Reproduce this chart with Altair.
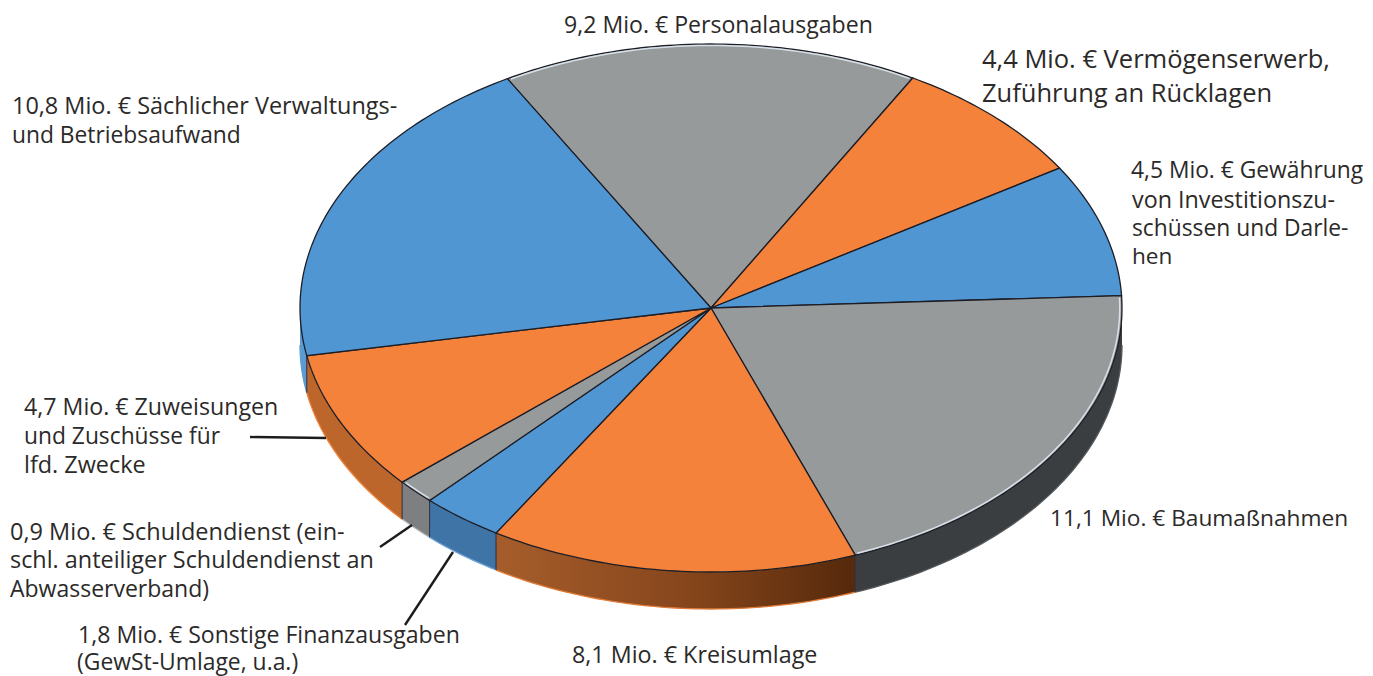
import math
import altair as alt

# --- data ---
categories = ["Personalausgaben", "Vermögenserwerb", "Investitionszuschüsse", "Baumaßnahmen",
              "Kreisumlage", "Sonstige Finanzausgaben", "Schuldendienst", "Zuweisungen",
              "Sächlicher Aufwand"]
values = [9.11, 4.41, 4.52, 11.12, 8.03, 1.80, 0.85, 4.76, 10.90]

# --- styling / geometry ---
TOP = ["#979a9a", "#f4823a", "#4f96d2", "#979a9a", "#f4823a", "#4f96d2", "#979a9a", "#f4823a", "#4f96d2"]
WALL = ["#979a9a", "#f4823a", "#4f96d2", "#3a3e40", "#7a4020", "#3f74a6", "#7d7f81", "#bd662c", "#5b9bd2"]
FRINGE = ["#979a9a", "#f4823a", "#4f96d2", "#55595b", "#e07a35", "#6fa5d6", "#b8bbbd", "#ee8238", "#5b9bd2"]
CX, CY, RX, RY, DEPTH, START = 711, 308, 411, 264, 37, -29.7
FONT = "Open Sans"
INK = "#2b2a29"

def pt(deg, k=1.0, dy=0.0):
    a = math.radians(deg)
    return [CX + k * RX * math.sin(a), CY - k * RY * math.cos(a) + dy]

def arc(a, b, k=1.0, dy=0.0):
    n = max(2, int(abs(b - a)) + 2)
    return [pt(a + (b - a) * i / (n - 1), k, dy) for i in range(n)]

def feature(kind, coords, **props):
    return {"type": "Feature", "properties": props, "geometry": {"type": kind, "coordinates": coords}}

total = sum(values)
bounds = [START]
for v in values:
    bounds.append(bounds[-1] + 360 * v / total)

tops, walls, grads, glints, fringes, seps = [], [], [], [], [], []
for i, name in enumerate(categories):
    a, b = bounds[i], bounds[i + 1]
    ring = [[CX, CY]] + arc(a, b) + [[CX, CY]]
    tops.append(feature("Polygon", [ring], fill=TOP[i], name=name))
    if TOP[i] == "#979a9a":
        glints.append(feature("LineString", arc(a + 0.4, b - 0.4, 0.9945), name=name))
    lo, hi = max(a, 90), min(b, 270)
    if hi > lo:
        wall = arc(lo, hi) + arc(hi, lo, 1.0, DEPTH)
        wall.append(wall[0])
        f = feature("Polygon", [wall], fill=WALL[i], name=name)
        (grads if name == "Kreisumlage" else walls).append(f)
        fringes.append(feature("LineString", arc(lo, hi, 1.0, DEPTH), col=FRINGE[i], name=name))
        if lo == a:
            seps.append(feature("LineString", [pt(a), pt(a, 1.0, DEPTH)], name=name))

def base(feats):
    return alt.Chart(alt.Data(values=feats)).project(type="identity", scale=1, translate=[-8, -8])

wall_layer = base(walls).mark_geoshape(strokeWidth=0).encode(
    fill=alt.Fill("properties.fill:N", scale=None))
brown = base(grads).mark_geoshape(
    strokeWidth=0,
    fill=alt.Gradient(gradient="linear", x1=0, y1=0, x2=1, y2=0,
                      stops=[alt.GradientStop(offset=0, color="#a65d2b"),
                             alt.GradientStop(offset=0.55, color="#85451b"),
                             alt.GradientStop(offset=1, color="#55290b")]))
fringe = base(fringes).mark_geoshape(filled=False, strokeWidth=1.3).encode(
    stroke=alt.Stroke("properties.col:N", scale=None))
sep = base(seps).mark_geoshape(filled=False, stroke="#2a2a3c", strokeWidth=1)
top_layer = base(tops).mark_geoshape(stroke="#1d1d26", strokeWidth=1.3).encode(
    fill=alt.Fill("properties.fill:N", scale=None))
glint = base(glints).mark_geoshape(filled=False, stroke="#d5e0e8", strokeWidth=1.5)

# --- labels ---
label_text = [
    "9,2 Mio. € Personalausgaben",
    "4,4 Mio. € Vermögenserwerb,", "Zuführung an Rücklagen",
    "4,5 Mio. € Gewährung", "von Investitionszu-", "schüssen und Darle-", "hen",
    "11,1 Mio. € Baumaßnahmen",
    "8,1 Mio. € Kreisumlage",
    "1,8 Mio. € Sonstige Finanzausgaben", "(GewSt-Umlage, u.a.)",
    "0,9 Mio. € Schuldendienst (ein-", "schl. anteiliger Schuldendienst an", "Abwasserverband)",
    "4,7 Mio. € Zuweisungen", "und Zuschüsse für", "lfd. Zwecke",
    "10,8 Mio. € Sächlicher Verwaltungs-", "und Betriebsaufwand",
]
label_x = [564, 982, 982, 1131, 1132, 1132, 1132, 1050, 572, 78, 77, 10, 10, 10, 24, 24, 24, 12, 12]
label_y = [33, 68, 102, 178, 208, 236, 264, 526, 663, 643, 670, 540, 568, 597, 415, 444, 473, 114, 143]
label_s = [23.1, 25.5, 25.5, 22.8, 23.3, 22.8, 22.6, 22.7, 23.3, 23.1, 22.9, 23.5, 23.4, 23, 23.2, 22.8, 23.4, 23.45, 22.8]
rows = [{"t": t, "x": x - 8, "y": y - 8, "s": s} for t, x, y, s in zip(label_text, label_x, label_y, label_s)]
labels = alt.Chart(alt.Data(values=rows)).mark_text(
    font=FONT, align="left", baseline="alphabetic", color=INK).encode(
    x=alt.X("x:Q", scale=None), y=alt.Y("y:Q", scale=None), text="t:N",
    size=alt.Size("s:Q", scale=None))

# --- leader lines ---
lead = [(250, 437, 326, 438), (380, 547, 412, 525), (405, 625, 453, 552)]
lead_rows = [{"x": a - 8, "y": b - 8, "x2": c - 8, "y2": d - 8} for a, b, c, d in lead]
leaders = alt.Chart(alt.Data(values=lead_rows)).mark_rule(color="#1c1c1c", strokeWidth=2.4).encode(
    x=alt.X("x:Q", scale=None), y=alt.Y("y:Q", scale=None),
    x2="x2:Q", y2="y2:Q")

chart = alt.layer(wall_layer, brown, fringe, sep, top_layer, glint, leaders, labels).properties(
    width=1357, height=668, padding=0, autosize=alt.AutoSizeParams(type="none")
).configure_view(stroke=None)

chart.save("out.html", embed_options={"renderer": "svg", "actions": False})
